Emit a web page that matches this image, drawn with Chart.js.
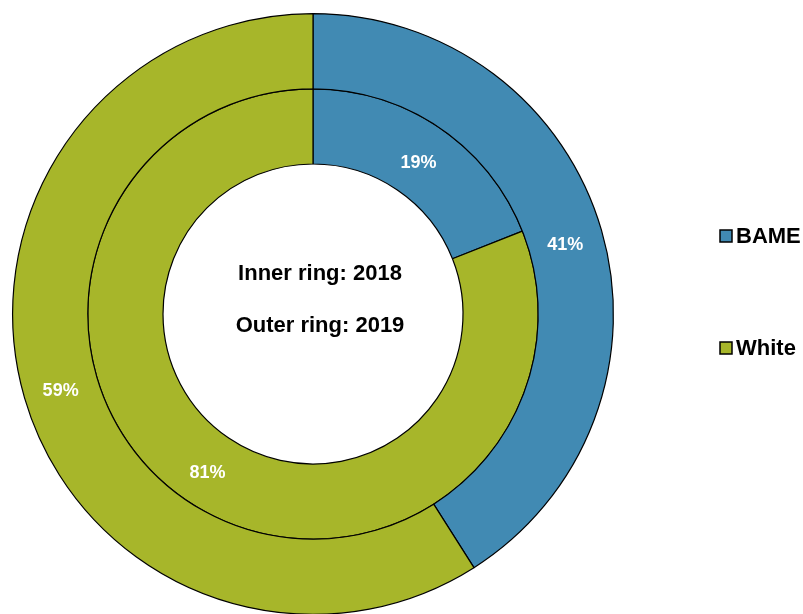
<!DOCTYPE html>
<html>
<head>
<meta charset="utf-8">
<script src="https://cdn.jsdelivr.net/npm/chart.js@4/dist/chart.umd.min.js"></script>
<style>
    html, body { margin: 0; padding: 0; background: #fff; overflow: hidden; }
    #wrap { position: absolute; left: 0; top: 0; width: 803px; height: 626px; }
</style>
</head>
<body>
<div id="wrap"><canvas id="ringChart"></canvas></div>
<script>
const categories = ['BAME', 'White'];
const values2019 = [41, 59];   // outer ring
const values2018 = [19, 81];   // inner ring
const colours = ['#418ab3', '#a7b62a'];
const centreLines = ['Inner ring: 2018', 'Outer ring: 2019'];

const FONT = '"Liberation Sans", Arial, sans-serif';

// Percent labels on each slice + centre text + right-hand legend
const ringDecor = {
    id: 'ringDecor',
    afterDatasetsDraw(chart) {
        const ctx = chart.ctx;
        ctx.save();
        ctx.textAlign = 'center';
        ctx.textBaseline = 'middle';

        ctx.fillStyle = '#fff';
        ctx.font = 'bold 18px ' + FONT;
        chart.data.datasets.forEach((ds, i) => {
            chart.getDatasetMeta(i).data.forEach((arc, j) => {
                const p = arc.tooltipPosition();
                ctx.fillText(ds.data[j] + '%', p.x, p.y + 4);
            });
        });

        const arc0 = chart.getDatasetMeta(0).data[0];
        ctx.fillStyle = '#000';
        ctx.font = 'bold 22px ' + FONT;
        ctx.fillText(centreLines[0], arc0.x + 7, arc0.y - 40);
        ctx.fillText(centreLines[1], arc0.x + 7, arc0.y + 12);

        // legend
        ctx.textAlign = 'left';
        ctx.font = 'bold 22px ' + FONT;
        const legendY = [236, 348];
        categories.forEach((c, i) => {
            ctx.fillStyle = colours[i];
            ctx.fillRect(720, legendY[i] - 6, 12, 12);
            ctx.strokeStyle = '#000';
            ctx.lineWidth = 1.5;
            ctx.strokeRect(720, legendY[i] - 6, 12, 12);
            ctx.fillStyle = '#000';
            ctx.fillText(c, 736, legendY[i] + 1);
        });
        ctx.restore();
    }
};

new Chart(document.getElementById('ringChart'), {
    type: 'doughnut',
    data: {
        labels: categories,
        datasets: [
            { label: '2019', data: values2019, backgroundColor: colours, borderColor: '#000', borderWidth: 1.2 },
            { label: '2018', data: values2018, backgroundColor: colours, borderColor: '#000', borderWidth: 1.2 }
        ]
    },
    options: {
        responsive: true,
        maintainAspectRatio: false,
        animation: false,
        cutout: 150,
        layout: { padding: { left: 11, right: 188, top: 13, bottom: 11 } },
        plugins: {
            legend: { display: false },
            tooltip: { enabled: false }
        }
    },
    plugins: [ringDecor]
});
</script>
</body>
</html>
